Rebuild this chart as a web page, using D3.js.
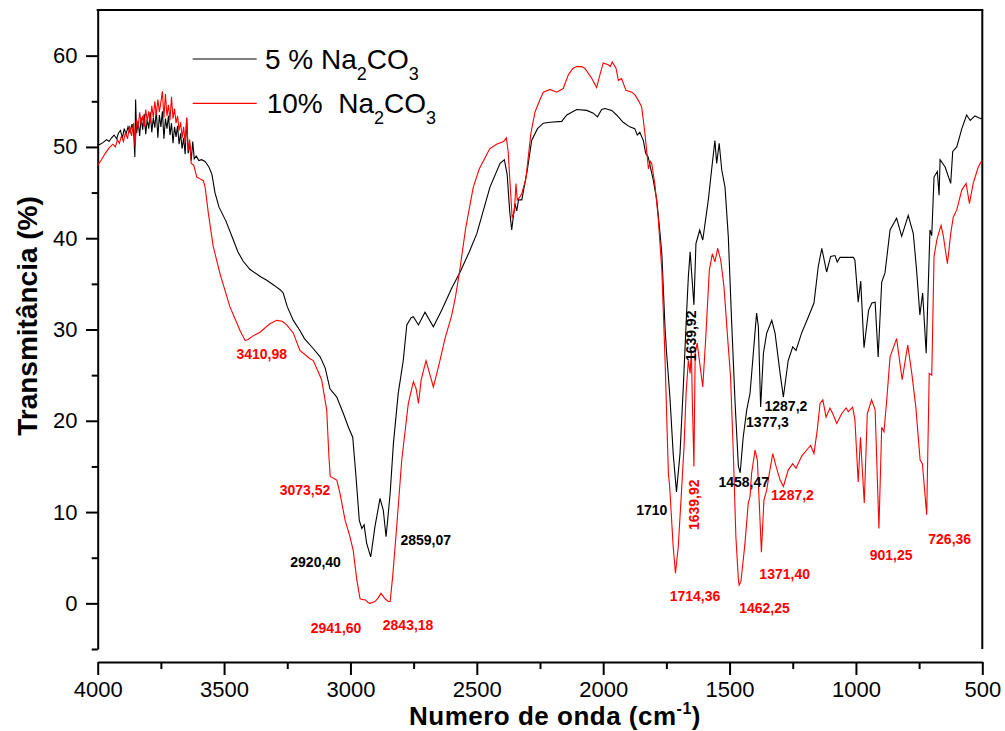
<!DOCTYPE html>
<html>
<head>
<meta charset="utf-8">
<script src="https://cdn.jsdelivr.net/npm/d3@7"></script>
<style>
  body { margin: 0; background: #fff; }
  text { font-family: "Liberation Sans", Arial, sans-serif; }
</style>
</head>
<body>
<div id="chart"></div>
<script>
// spectrum: [wavenumber (cm-1), transmittance (%)]
const spectrum5 = [
  [4000,50.2],[3990,50.3],[3978,50.5],[3965,50.8],[3955,50.6],[3945,51.0],[3935,51.3],[3925,50.9],[3918,51.5],[3910,51.8],
  [3902,51.0],[3895,52.0],[3888,51.4],[3880,52.2],[3872,51.6],[3864,52.5],[3858,51.8],[3853,48.9],[3850,55.2],[3846,51.5],
  [3840,52.8],[3834,51.2],[3828,53.2],[3822,51.9],[3816,53.6],[3810,51.4],[3804,53.0],[3798,52.0],[3792,53.8],[3786,51.6],
  [3780,53.2],[3774,52.1],[3768,54.0],[3762,51.0],[3756,53.5],[3750,52.2],[3744,53.9],[3738,50.9],[3732,53.1],[3726,52.0],
  [3720,53.4],[3714,51.3],[3708,52.6],[3702,50.4],[3696,52.2],[3690,51.1],[3684,52.3],[3678,50.3],[3672,51.5],[3666,49.8],
  [3660,51.0],[3654,49.2],[3648,53.2],[3642,49.3],[3636,50.4],[3630,48.5],[3624,50.6],[3618,48.7],[3610,49.0],[3600,48.5],
  [3589,48.6],[3575,48.4],[3560,47.8],[3548,47.0],[3536,45.0],[3520,43.4],[3493,41.9],[3466,40.0],[3445,38.5],[3425,37.5],
  [3398,36.6],[3357,35.8],[3331,35.4],[3300,34.8],[3276,34.3],[3266,34.0],[3250,32.5],[3226,31.0],[3200,29.9],[3182,29.0],
  [3150,28.0],[3120,27.0],[3100,25.8],[3081,23.5],[3054,22.6],[3028,20.8],[3008,19.3],[2991,18.2],[2978,13.9],[2965,9.1],
  [2955,8.2],[2946,8.6],[2936,6.6],[2920,5.1],[2916,5.8],[2903,8.4],[2883,11.5],[2870,10.2],[2859,7.3],[2843,12.0],
  [2830,17.5],[2811,23.0],[2791,26.6],[2777,30.5],[2760,31.3],[2751,31.4],[2731,30.5],[2705,31.9],[2672,30.3],[2639,32.1],
  [2600,34.5],[2566,36.3],[2530,38.5],[2500,40.5],[2448,45.6],[2408,48.2],[2391,48.6],[2380,47.0],[2370,43.0],[2362,40.9],
  [2349,43.8],[2342,43.0],[2335,44.2],[2322,44.2],[2300,47.5],[2283,50.7],[2260,52.0],[2237,52.6],[2210,52.7],[2164,52.8],
  [2144,53.5],[2105,54.1],[2065,54.0],[2039,53.7],[2023,53.3],[2006,54.1],[1993,54.2],[1966,54.0],[1947,53.5],[1921,52.7],
  [1895,52.2],[1875,52.0],[1865,51.3],[1855,51.6],[1841,50.7],[1832,49.3],[1822,48.9],[1802,46.4],[1788,44.2],[1775,40.5],
  [1768,38.3],[1755,30.0],[1749,27.4],[1736,22.6],[1723,16.4],[1710,12.2],[1696,16.4],[1683,23.7],[1670,31.8],[1663,35.8],
  [1656,38.5],[1650,36.2],[1641,32.7],[1633,39.4],[1618,40.9],[1606,39.8],[1584,44.2],[1571,47.5],[1558,50.7],[1551,48.2],
  [1541,50.4],[1531,47.5],[1518,45.6],[1505,40.2],[1492,31.0],[1478,21.9],[1465,15.0],[1458,14.3],[1446,18.2],[1432,21.2],
  [1419,23.0],[1406,27.4],[1393,31.8],[1386,30.3],[1377,21.5],[1366,27.4],[1353,29.6],[1343,30.3],[1333,31.0],[1320,29.6],
  [1300,25.2],[1287,22.6],[1268,26.6],[1250,28.1],[1237,27.7],[1215,29.6],[1188,31.4],[1166,32.9],[1149,36.9],[1135,38.9],
  [1116,36.3],[1100,38.0],[1083,38.1],[1074,37.4],[1063,37.9],[1010,37.9],[1004,37.6],[991,33.0],[981,35.3],[968,28.0],
  [950,32.1],[937,32.9],[924,33.0],[912,27.0],[898,35.2],[885,36.2],[865,40.9],[839,42.2],[819,40.2],[793,42.5],
  [773,40.5],[760,36.5],[747,31.6],[736,34.0],[722,27.4],[707,40.9],[700,40.3],[691,46.7],[678,47.3],[671,44.7],
  [667,48.6],[647,47.8],[625,46.0],[617,49.5],[601,50.0],[581,52.0],[562,53.5],[548,52.9],[529,53.4],[506,53.1],[500,53.2]
]

const spectrum10 = [
  [4000,48.0],[3985,48.6],[3970,49.3],[3955,49.9],[3940,50.3],[3930,50.0],[3922,50.8],[3914,50.4],[3906,51.2],[3898,50.6],
  [3890,51.6],[3882,50.9],[3874,52.3],[3866,51.2],[3858,52.6],[3852,50.0],[3846,53.0],[3840,52.1],[3834,53.8],[3828,52.5],
  [3822,53.4],[3816,52.2],[3810,54.1],[3804,52.8],[3798,53.9],[3792,52.6],[3786,54.5],[3780,53.2],[3774,55.0],[3768,53.5],
  [3762,55.2],[3756,53.8],[3750,54.9],[3744,56.1],[3738,53.2],[3732,55.8],[3726,53.4],[3720,54.6],[3714,52.9],[3708,55.5],
  [3702,53.1],[3696,54.2],[3690,52.6],[3684,53.4],[3678,51.8],[3672,52.7],[3666,51.0],[3660,52.2],[3654,50.4],[3648,53.2],
  [3642,49.6],[3636,50.8],[3630,48.2],[3620,48.0],[3608,46.7],[3595,46.5],[3582,46.3],[3575,45.6],[3562,42.7],[3543,39.1],
  [3516,36.1],[3477,32.5],[3437,29.9],[3417,28.8],[3405,28.9],[3385,29.3],[3358,29.7],[3320,30.6],[3292,31.0],[3270,30.9],
  [3252,30.5],[3226,29.6],[3200,27.7],[3160,26.8],[3147,26.6],[3114,24.5],[3094,21.2],[3085,16.0],[3080,13.9],[3073,13.8],
  [3060,13.6],[3054,13.5],[3041,12.0],[3021,9.1],[3002,7.3],[2989,5.8],[2975,2.6],[2962,0.5],[2950,0.4],[2942,0.4],
  [2930,0.1],[2923,0.0],[2903,0.2],[2890,0.6],[2879,1.1],[2863,0.5],[2850,0.2],[2843,0.2],[2833,2.9],[2817,8.4],
  [2797,15.7],[2771,21.9],[2751,24.3],[2740,23.5],[2731,21.9],[2720,24.5],[2701,26.6],[2685,25.0],[2672,23.7],[2660,25.0],
  [2646,26.6],[2626,29.0],[2600,31.5],[2585,33.5],[2568,36.4],[2544,41.1],[2514,45.6],[2490,47.6],[2449,49.8],[2422,50.3],
  [2394,50.6],[2383,51.0],[2376,49.5],[2364,44.0],[2360,42.2],[2351,43.0],[2345,46.0],[2340,44.2],[2330,44.5],[2322,44.9],
  [2306,46.5],[2300,48.0],[2286,51.5],[2270,53.8],[2250,55.2],[2237,56.0],[2210,56.3],[2184,56.0],[2158,56.4],[2138,57.9],
  [2120,58.6],[2105,58.8],[2085,58.8],[2072,58.6],[2045,57.5],[2026,56.5],[2013,57.9],[2000,59.2],[1980,59.0],[1972,58.8],
  [1964,59.3],[1949,58.6],[1940,57.3],[1927,57.5],[1910,56.2],[1887,56.0],[1874,55.7],[1861,55.1],[1848,54.4],[1841,52.9],
  [1835,51.5],[1828,49.6],[1821,47.6],[1813,48.4],[1808,48.2],[1795,45.8],[1782,42.1],[1768,36.5],[1755,26.5],[1742,14.2],
  [1737,12.8],[1723,6.2],[1714,3.3],[1703,6.2],[1689,12.8],[1680,17.2],[1672,23.0],[1663,26.6],[1656,25.2],[1651,27.7],
  [1647,21.9],[1641,15.0],[1636,27.4],[1628,28.5],[1618,26.3],[1606,23.7],[1594,29.2],[1580,36.5],[1568,38.3],[1558,37.4],
  [1547,38.9],[1535,37.6],[1522,34.7],[1509,29.6],[1496,24.8],[1485,16.4],[1475,7.3],[1465,2.6],[1462,2.0],[1455,2.4],
  [1443,5.5],[1439,6.6],[1426,11.0],[1419,11.7],[1413,14.2],[1399,16.8],[1390,15.7],[1374,5.6],[1364,11.3],[1353,12.4],
  [1343,14.2],[1329,16.4],[1316,15.0],[1300,13.5],[1287,12.8],[1268,14.6],[1250,15.3],[1237,14.8],[1215,16.1],[1195,16.8],
  [1179,17.3],[1166,16.4],[1153,19.0],[1142,21.9],[1131,22.3],[1118,20.4],[1103,21.4],[1092,20.8],[1076,19.7],[1056,20.8],
  [1039,21.4],[1030,21.0],[1013,21.5],[1004,20.1],[991,13.3],[982,18.2],[967,11.0],[955,20.8],[938,22.3],[924,21.2],
  [909,8.2],[898,19.3],[889,18.8],[878,22.3],[865,27.0],[839,29.0],[817,24.5],[795,28.3],[779,25.2],[763,21.5],
  [746,15.7],[737,15.3],[720,9.7],[710,25.2],[700,25.0],[691,38.0],[680,39.8],[671,40.7],[663,41.4],[654,40.2],
  [638,37.2],[625,40.5],[615,42.3],[601,43.1],[581,45.3],[564,46.0],[551,43.8],[536,46.0],[516,47.8],[500,48.6]
]

const majorX = [4000, 3500, 3000, 2500, 2000, 1500, 1000, 500]
const minorX = [3750, 3250, 2750, 2250, 1750, 1250, 750]
const majorY = [0, 10, 20, 30, 40, 50, 60]
const minorY = [-5, 5, 15, 25, 35, 45, 55]

// peak labels: wavenumber / transmittance of the text anchor
const peaks5 = [
  { wn: 3138, t: 4.0, label: '2920,40' },
  { wn: 2702, t: 6.4, label: '2859,07' },
  { wn: 1808, t: 9.7, label: '1710' },
  { wn: 1633, t: 29.3, label: '1639,92', rotate: true },
  { wn: 1444, t: 12.8, label: '1458,47' },
  { wn: 1350, t: 19.3, label: '1377,3' },
  { wn: 1277, t: 21.1, label: '1287,2' }
]
const peaks10 = [
  { wn: 3351, t: 26.8, label: '3410,98' },
  { wn: 3180, t: 11.9, label: '3073,52' },
  { wn: 3057, t: -3.2, label: '2941,60' },
  { wn: 2772, t: -2.9, label: '2843,18' },
  { wn: 1637, t: 0.3, label: '1714,36' },
  { wn: 1621, t: 10.8, label: '1639,92', rotate: true },
  { wn: 1362, t: -1.1, label: '1462,25' },
  { wn: 1282, t: 2.7, label: '1371,40' },
  { wn: 1251, t: 11.3, label: '1287,2' },
  { wn: 861, t: 4.7, label: '901,25' },
  { wn: 629, t: 6.5, label: '726,36' }
]

const seriesNames = [['5 % Na', '2', 'CO', '3'], ['10%  Na', '2', 'CO', '3']]
const seriesColors = ['#000000', '#ff0000']

const width = 1005, height = 731

const svg = d3.select('#chart')
    .append('svg')
    .attr('width', width)
    .attr('height', height)

const x = d3.scaleLinear().domain([4000, 500]).range([97.7, 982.3])
const y = d3.scaleLinear().domain([-5, 65]).range([649, 10])

// frame: top and right lines
svg.append('line')
    .attr('x1', x(4000) - 1).attr('x2', x(500) + 1)
    .attr('y1', y(65)).attr('y2', y(65))
    .attr('stroke', '#000').attr('stroke-width', 2)
svg.append('line')
    .attr('x1', x(500)).attr('x2', x(500))
    .attr('y1', y(65)).attr('y2', y(-5))
    .attr('stroke', '#000').attr('stroke-width', 2)

// Y axis
svg.append('g')
    .attr('transform', 'translate(' + x(4000) + ',0)')
    .call(d3.axisLeft(y).tickValues(majorY).tickSize(11.7).tickSizeOuter(0).tickPadding(8.5))
svg.append('g')
    .attr('transform', 'translate(' + x(4000) + ',0)')
    .call(d3.axisLeft(y).tickValues(minorY).tickSize(6).tickFormat(''))
    .call(g => g.select('.domain').remove())

// X axis, detached below the frame
svg.append('g')
    .attr('transform', 'translate(0,662)')
    .call(d3.axisBottom(x).tickValues(majorX).tickFormat(d3.format('d')).tickSize(13).tickSizeOuter(0).tickPadding(6.5))
svg.append('g')
    .attr('transform', 'translate(0,662)')
    .call(d3.axisBottom(x).tickValues(minorX).tickSize(7).tickFormat(''))
    .call(g => g.select('.domain').remove())

svg.selectAll('.domain, .tick line').attr('stroke', '#000').attr('stroke-width', 2)
svg.selectAll('.tick text')
    .attr('font-family', '"Liberation Sans", Arial, sans-serif')
    .attr('font-size', 22)
    .attr('fill', '#000')

// spectra
const line = d3.line()
    .x(d => x(d[0]))
    .y(d => y(d[1]))

svg.append('path')
    .datum(spectrum5)
    .attr('d', line)
    .attr('fill', 'none')
    .attr('stroke', seriesColors[0])
    .attr('stroke-width', 1.1)

svg.append('path')
    .datum(spectrum10)
    .attr('d', line)
    .attr('fill', 'none')
    .attr('stroke', seriesColors[1])
    .attr('stroke-width', 1.1)

// peak labels
function drawPeaks(peaks, color) {
    svg.append('g').selectAll('text')
        .data(peaks)
        .enter()
        .append('text')
        .attr('transform', d => 'translate(' + x(d.wn) + ',' + y(d.t) + ')' + (d.rotate ? ' rotate(-90)' : ''))
        .attr('text-anchor', 'middle')
        .attr('font-size', 14)
        .attr('font-weight', 'bold')
        .attr('fill', color)
        .text(d => d.label)
}
drawPeaks(peaks5, seriesColors[0])
drawPeaks(peaks10, seriesColors[1])

// legend
const legend = svg.append('g')
seriesNames.forEach(function (parts, i) {
    const ly = 59 + i * 44.3
    legend.append('line')
        .attr('x1', 192.7).attr('x2', 256.7)
        .attr('y1', ly).attr('y2', ly)
        .attr('stroke', seriesColors[i]).attr('stroke-width', 1.2)
    const t = legend.append('text')
        .attr('x', 265 + i * 1.7)
        .attr('y', ly + 10)
        .attr('font-size', 28)
        .style('white-space', 'pre')
    t.append('tspan').text(parts[0])
    t.append('tspan').attr('font-size', 18).attr('dy', 11).text(parts[1])
    t.append('tspan').attr('dy', -11).text(parts[2])
    t.append('tspan').attr('font-size', 18).attr('dy', 11).text(parts[3])
})

// axis titles
const xTitle = svg.append('text')
    .attr('x', 555)
    .attr('y', 725.3)
    .attr('text-anchor', 'middle')
    .attr('font-size', 26)
    .attr('font-weight', 'bold')
    .attr('letter-spacing', 0.5)
xTitle.append('tspan').text('Numero de onda (cm')
xTitle.append('tspan').attr('font-size', 16).attr('dy', -11).text('-1')
xTitle.append('tspan').attr('dy', 11).text(')')

svg.append('text')
    .attr('transform', 'translate(37,316) rotate(-90)')
    .attr('text-anchor', 'middle')
    .attr('font-size', 28)
    .attr('font-weight', 'bold')
    .text('Transmitância (%)')
</script>
</body>
</html>
